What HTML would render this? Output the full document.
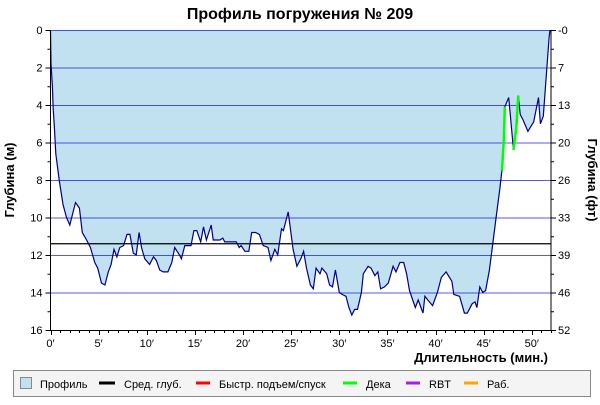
<!DOCTYPE html>
<html><head><meta charset="utf-8"><style>
body{margin:0;background:#fff;}
svg text{font-family:"Liberation Sans","DejaVu Sans",sans-serif;}
</style></head><body>
<svg id="chart" width="600" height="400" viewBox="0 0 600 400" xmlns="http://www.w3.org/2000/svg">
<text x="300" y="19" text-anchor="middle" font-size="16" font-weight="bold">Профиль погружения № 209</text>
<g id="plot"></g>
<text transform="translate(14,180) rotate(-90)" text-anchor="middle" font-size="13" font-weight="bold">Глубина (м)</text>
<text transform="translate(588,180) rotate(90)" text-anchor="middle" font-size="13" font-weight="bold">Глубина (фт)</text>
<text x="548" y="362" text-anchor="end" font-size="13" font-weight="bold">Длительность (мин.)</text>
<g>
<rect x="13.5" y="370.5" width="577" height="26" fill="#f4f4f4" stroke="#888"/>
<g font-size="11" fill="#000">
<rect x="20.5" y="377.5" width="11" height="11" fill="#c1e1f0" stroke="#888"/>
<text x="40" y="388">Профиль</text>
<line x1="99" y1="383" x2="115" y2="383" stroke="#000" stroke-width="3"/>
<text x="124" y="388">Сред. глуб.</text>
<line x1="196" y1="383" x2="210" y2="383" stroke="#f00" stroke-width="3"/>
<text x="219" y="388">Быстр. подъем/спуск</text>
<line x1="343" y1="383" x2="357" y2="383" stroke="#0f0" stroke-width="3"/>
<text x="366" y="388">Дека</text>
<line x1="406" y1="383" x2="420" y2="383" stroke="#a020f0" stroke-width="3"/>
<text x="429" y="388">RBT</text>
<line x1="464" y1="383" x2="478" y2="383" stroke="#ffa500" stroke-width="3"/>
<text x="487" y="388">Раб.</text>
</g></g>
</svg>
<script>
const times=[0,0.05,0.2,0.28,0.4,0.55,0.9,1.3,1.66,2.0,2.6,3.0,3.3,3.75,4.15,4.6,4.9,5.3,5.65,6.0,6.3,6.6,6.9,7.2,7.6,7.95,8.25,8.6,8.9,9.2,9.45,9.8,10.3,10.7,11.0,11.35,11.7,12.2,12.6,12.9,13.4,13.6,13.95,14.6,14.9,15.2,15.6,15.9,16.2,16.7,16.9,17.6,17.9,18.1,19.3,19.6,19.8,20.2,20.6,20.9,21.3,21.7,22.1,22.6,22.9,23.3,23.6,24.0,24.2,24.7,25.2,25.6,26.0,26.3,26.6,27.0,27.3,27.6,28.0,28.2,28.7,29.0,29.3,29.6,30.0,30.3,30.7,31.0,31.3,31.6,31.9,32.3,32.5,33.0,33.3,33.7,34.0,34.3,34.7,35.1,35.6,35.9,36.3,36.7,37.0,37.3,37.9,38.2,38.7,38.9,39.2,39.7,40.2,40.6,41.1,41.7,41.9,42.5,43.0,43.3,43.8,44.1,44.3,44.6,44.9,45.2,45.6,45.9,46.3,46.7,46.9,47.1,47.2,47.6,48.1,48.4,48.6,48.8,49.1,49.6,50.2,50.7,50.9,51.2,51.5,51.8,51.9];
const depths=[0,1.8,3.0,4.2,5.2,6.6,8.0,9.3,10.0,10.4,9.2,9.5,10.8,11.2,11.6,12.4,12.7,13.5,13.6,12.9,12.5,11.7,12.1,11.6,11.5,10.9,10.9,11.9,12.0,10.8,11.6,12.2,12.5,12.1,12.3,12.8,12.9,12.9,12.4,11.6,12.0,12.2,11.5,11.5,10.7,10.7,11.3,10.5,11.2,10.4,11.2,11.2,11.1,11.3,11.3,11.6,11.5,11.8,11.8,10.8,10.8,10.9,11.5,11.6,12.3,11.7,12.0,10.6,10.7,9.7,11.7,12.6,12.2,11.8,12.7,13.6,13.8,12.7,13.0,12.7,13.0,13.6,13.7,12.8,14.0,14.1,14.2,14.8,15.2,14.9,14.9,14.0,13.0,12.6,12.7,13.1,12.9,13.8,13.7,13.5,12.6,12.9,12.4,12.4,13.0,13.9,14.8,14.4,15.1,14.2,14.4,14.7,14.0,13.2,12.9,13.4,14.1,14.2,15.1,15.1,14.6,14.5,14.8,13.7,14.0,13.9,12.8,11.6,10.0,8.4,7.5,5.9,4.1,3.6,6.4,5.2,3.5,4.5,4.8,5.4,4.9,3.6,5.0,4.6,2.5,0.4,0];
const decoRanges=[[46.9,47.2],[48.0,48.7]];
const avgDepth=11.4;
const yTicksM=[0,2,4,6,8,10,12,14,16];
const yTicksFt=["-0","7","13","20","26","33","39","46","52"];
const xTicks=[0,5,10,15,20,25,30,35,40,45,50];

const NS="http://www.w3.org/2000/svg";
const X0=50.5,X1=551,Y0=30,Y1=330,TMAX=52,DMAX=16;
const xs=t=>X0+(t/TMAX)*(X1-X0);
const ys=d=>Y0+(d/DMAX)*(Y1-Y0);
const plot=document.getElementById('plot');
function mk(tag,attrs){const e=document.createElementNS(NS,tag);for(const k in attrs)e.setAttribute(k,attrs[k]);plot.appendChild(e);return e;}

// area fill
let pts=times.map((t,i)=>xs(t).toFixed(1)+','+ys(depths[i]).toFixed(1));
let area=mk('polygon',{points:xs(0)+','+Y0+' '+pts.join(' ')+' '+xs(times[times.length-1])+','+Y0,fill:'#c1e1f0'});


// gridlines
yTicksM.slice(0,-1).forEach(m=>{
 const g=mk('line',{x1:X0,x2:X1,y1:ys(m)+0.5,y2:ys(m)+0.5,stroke:'#0000e0','stroke-opacity':'0.65'});
 
 
});
// avg depth
const av=mk('line',{x1:X0,x2:X1,y1:ys(avgDepth),y2:ys(avgDepth),stroke:'#000','stroke-width':1.3});


// profile line
const pl=mk('polyline',{points:pts.join(' '),fill:'none',stroke:'#00008b','stroke-width':1.2});


// deco segments
decoRanges.forEach((r,k)=>{
 const sp=[];times.forEach((t,i)=>{if(t>=r[0]-1e-6&&t<=r[1]+1e-6)sp.push(xs(t)+','+ys(depths[i]));});
 const d=mk('polyline',{points:sp.join(' '),fill:'none',stroke:'#00ff00','stroke-width':2.5});
 
 
});
// axes
const la=mk('line',{x1:X0,x2:X0,y1:Y0,y2:Y1,stroke:'#000'});


const ra=mk('line',{x1:X1,x2:X1,y1:Y0,y2:Y1,stroke:'#000'});


const xa=mk('line',{x1:X0,x2:X1,y1:Y1+0.5,y2:Y1+0.5,stroke:'#000'});


for(let m=0;m<=DMAX;m++){
 const y=ys(m)+0.5,major=m%2===0;
 mk('line',{x1:X0-(major?5:3),x2:X0,y1:y,y2:y,stroke:'#000'});
 mk('line',{x1:X1,x2:X1+(major?5:3),y1:y,y2:y,stroke:'#000'});
}
yTicksM.forEach((m,i)=>{
 const t=mk('text',{x:X0-8,y:ys(m)+4,'text-anchor':'end','font-size':11});t.textContent=m;
 
 
 const t2=mk('text',{x:X1+7,y:ys(m)+4,'font-size':11});t2.textContent=yTicksFt[i];
 
 
});
for(let t=0;t<=TMAX;t++){
 const x=Math.round(xs(t))+0.5,major=t%5===0;
 mk('line',{x1:x,x2:x,y1:Y1,y2:Y1+(major?5:3),stroke:'#000'});
}
xTicks.forEach(t=>{
 const e=mk('text',{x:xs(t),y:Y1+17,'text-anchor':'middle','font-size':11});e.textContent=t+'\u2032';
 
 
});
</script>
</body></html>
